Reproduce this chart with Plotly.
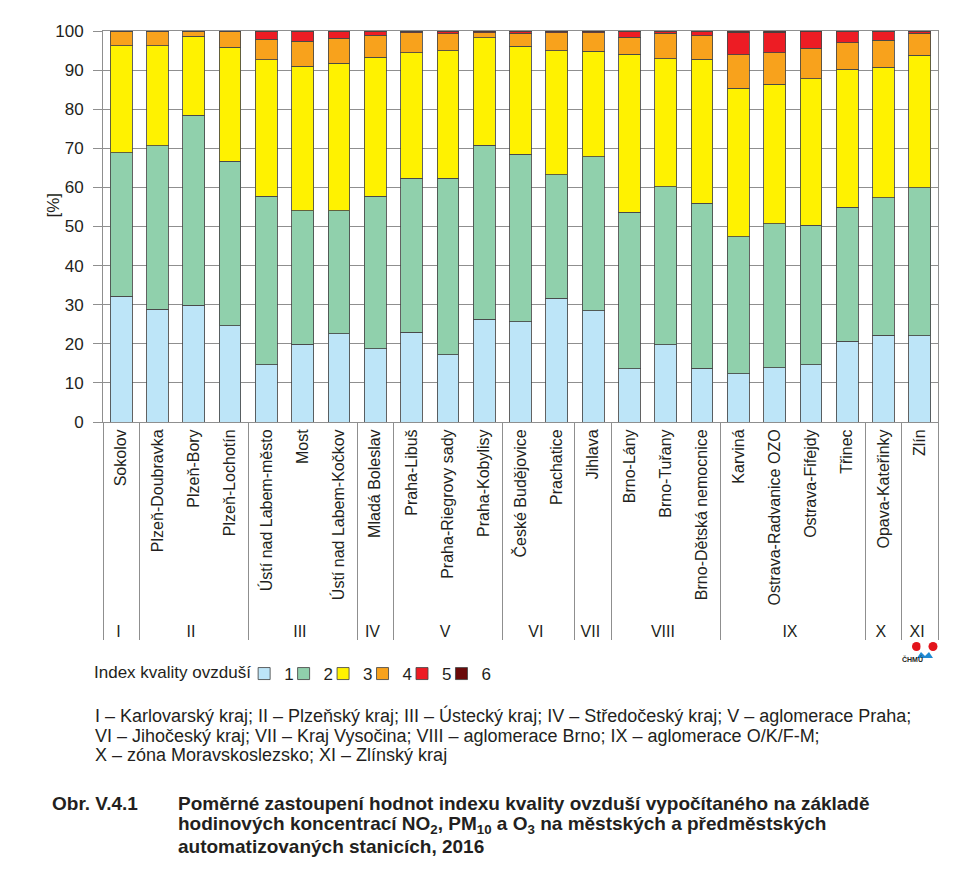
import plotly.graph_objects as go

# ---------------- data ----------------
regions = ["I", "II", "II", "II", "III", "III", "III", "IV", "V", "V", "V", "VI", "VI",
           "VII", "VIII", "VIII", "VIII", "IX", "IX", "IX", "IX", "X", "XI"]
stations = ["Sokolov", "Plzeň-Doubravka", "Plzeň-Bory", "Plzeň-Lochotín",
            "Ústí nad Labem-město", "Most", "Ústí nad Labem-Kočkov", "Mladá Boleslav",
            "Praha-Libuš", "Praha-Riegrovy sady", "Praha-Kobylisy", "České Budějovice",
            "Prachatice", "Jihlava", "Brno-Lány", "Brno-Tuřany", "Brno-Dětská nemocnice",
            "Karviná", "Ostrava-Radvanice OZO", "Ostrava-Fifejdy", "Třinec",
            "Opava-Kateřinky", "Zlín"]
index_1 = [32.1, 28.9, 29.9, 24.6, 14.7, 19.9, 22.6, 18.7, 23.0, 17.2, 26.3, 25.6,
           31.7, 28.5, 13.6, 19.8, 13.8, 12.3, 13.9, 14.7, 20.7, 22.2, 22.0]
index_2 = [36.8, 41.8, 48.6, 42.1, 43.1, 34.1, 31.4, 39.1, 39.3, 45.1, 44.5, 42.9,
           31.5, 39.4, 40.1, 40.4, 42.2, 35.1, 36.8, 35.6, 34.2, 35.1, 37.9]
index_3 = [27.3, 25.5, 20.2, 29.1, 34.8, 37.0, 37.8, 35.5, 32.2, 32.6, 27.5, 27.6,
           31.8, 26.9, 40.3, 32.7, 36.8, 38.0, 35.7, 37.5, 35.3, 33.4, 33.9]
index_4 = [3.6, 3.6, 1.1, 4.0, 5.3, 6.4, 6.4, 5.6, 5.0, 4.4, 1.3, 3.3,
           4.6, 4.8, 4.4, 6.5, 6.0, 8.5, 8.0, 7.8, 6.8, 6.9, 5.6]
index_5 = [0.1, 0.1, 0.1, 0.1, 2.0, 2.5, 1.7, 1.0, 0.4, 0.6, 0.2, 0.5,
           0.2, 0.2, 1.5, 0.5, 1.1, 5.7, 5.2, 4.2, 2.9, 2.3, 0.5]
index_6 = [0.1, 0.1, 0.1, 0.1, 0.1, 0.1, 0.1, 0.1, 0.1, 0.1, 0.2, 0.1,
           0.2, 0.2, 0.1, 0.1, 0.1, 0.4, 0.4, 0.2, 0.1, 0.1, 0.1]
series_names = ["1", "2", "3", "4", "5", "6"]
series_values = [index_1, index_2, index_3, index_4, index_5, index_6]
series_colors = ["#bde5f8", "#90d0ac", "#fff200", "#f8a21c", "#ed1c24", "#6a0a0a"]
y_ticks = [0, 10, 20, 30, 40, 50, 60, 70, 80, 90, 100]

footnote_lines = [
    "I – Karlovarský kraj; II – Plzeňský kraj; III – Ústecký kraj; IV – Středočeský kraj; V – aglomerace Praha;",
    "VI – Jihočeský kraj; VII – Kraj Vysočina; VIII – aglomerace Brno; IX – aglomerace O/K/F-M;",
    "X – zóna Moravskoslezsko; XI – Zlínský kraj",
]
caption_label = "Obr. V.4.1"
caption_lines = [
    "Poměrné zastoupení hodnot indexu kvality ovzduší vypočítaného na základě",
    "hodinových koncentrací NO<sub>2</sub>, PM<sub>10</sub> a O<sub>3</sub> na městských a předměstských",
    "automatizovaných stanicích, 2016",
]

# ---------------- geometry (page pixels; page body has an 8px margin) ----------------
OFF = 8
W, H = 975 - OFF, 874 - OFF
L, R, T, B = 103, 938, 31, 422


def px_x(x):
    return (x - L) / (R - L)


def px_y(y):
    return (B - y) / (B - T)


FONT = "Liberation Sans, Arial, sans-serif"
GRID = "#8f8f8f"
TXT = "#231f20"

fig = go.Figure()
for name, vals, col in zip(series_names, series_values, series_colors):
    fig.add_trace(go.Bar(
        x=[regions, stations], y=vals, name=name,
        marker=dict(color=col, line=dict(color="rgba(70,70,70,0.85)", width=1)),
    ))

fig.update_layout(
    width=W, height=H,
    margin=dict(l=L - OFF, r=W - (R - OFF), t=T - OFF, b=H - (B - OFF), pad=0),
    barmode="stack", bargap=0.4,
    plot_bgcolor="white", paper_bgcolor="white",
    font=dict(family=FONT, size=16, color=TXT),
    showlegend=True,
    legend=dict(
        orientation="h", x=px_x(92), xanchor="left", y=px_y(656), yanchor="top",
        title=dict(text="Index kvality ovzduší", side="left", font=dict(size=17)),
        font=dict(size=17), traceorder="normal", itemwidth=30,
        indentation=-15, bgcolor="rgba(0,0,0,0)",
    ),
    xaxis=dict(
        type="multicategory", tickangle=-90, ticks="",
        showline=True, linecolor=GRID, linewidth=1, mirror=True,
        showdividers=True, dividercolor=GRID, dividerwidth=1,
        tickfont=dict(size=16), showgrid=False,
    ),
    yaxis=dict(
        range=[0, 100], tickvals=y_ticks, ticks="outside", ticklen=9,
        tickcolor=GRID, showline=True, linecolor=GRID, linewidth=1, mirror=True,
        showgrid=True, gridcolor=GRID, gridwidth=1, zeroline=False,
        tickfont=dict(size=17), ticklabelstandoff=6,
    ),
)

# y-axis title
fig.add_annotation(text="[%]", textangle=-90, xref="paper", yref="paper",
                   x=px_x(41), y=px_y(205), showarrow=False, font=dict(size=17))

# footnote with region keys
for i, line in enumerate(footnote_lines):
    fig.add_annotation(text=line, xref="paper", yref="paper", x=px_x(93),
                       y=px_y(716 + 19.5 * i), xanchor="left", yanchor="middle",
                       align="left", showarrow=False, font=dict(size=18))

# caption
fig.add_annotation(text=f"<b>{caption_label}</b>", xref="paper", yref="paper", x=px_x(50),
                   y=px_y(803), xanchor="left", yanchor="middle", showarrow=False,
                   font=dict(size=19))
for i, line in enumerate(caption_lines):
    fig.add_annotation(text=f"<b>{line}</b>", xref="paper", yref="paper", x=px_x(176),
                       y=px_y(803 + 21.5 * i), xanchor="left", yanchor="middle",
                       align="left", showarrow=False, font=dict(size=19))

# small ČHMÚ logo
for cx in (916.5, 933.0):
    fig.add_shape(type="circle", xref="paper", yref="paper",
                  x0=px_x(cx - 4.5), x1=px_x(cx + 4.5), y0=px_y(651), y1=px_y(642),
                  fillcolor="#e3141b", line=dict(width=0))
fig.add_shape(type="rect", xref="paper", yref="paper",
              x0=px_x(920.5), x1=px_x(922.5), y0=px_y(652), y1=px_y(641),
              fillcolor="white", line=dict(width=0))
fig.add_shape(type="path", xref="paper", yref="paper",
              path=(f"M {px_x(917)},{px_y(658)} L {px_x(921)},{px_y(652)} L {px_x(925)},{px_y(656)} "
                    f"L {px_x(929)},{px_y(652)} L {px_x(933)},{px_y(658)} Z"),
              fillcolor="#1f8ad2", line=dict(width=0))
fig.add_annotation(text="<b>ČHMÚ</b>", xref="paper", yref="paper", x=px_x(925), y=px_y(665),
                   showarrow=False, font=dict(size=7, color=TXT))

fig.write_html("out.html")
